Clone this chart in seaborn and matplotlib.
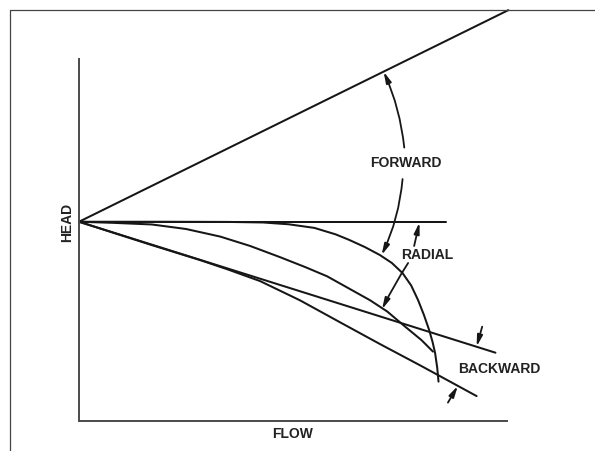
import matplotlib
matplotlib.use("Agg")
import matplotlib.pyplot as plt
import seaborn as sns
from matplotlib.lines import Line2D

# ---- data (flow, head) in chart units: axes run 0..100 on both ----
flow_forward_line = [0, 100.3]
head_forward_line = [55, 113.5]

flow_radial_line = [0, 85.7]
head_radial_line = [55, 55]

flow_backward_line = [0, 97.3]
head_backward_line = [55, 18.8]

flow_forward_curve = [0, 20, 35, 43, 49, 55, 60, 63.1, 66.8, 70.3, 73.1, 75.6,
                      77.6, 79.2, 80.6, 81.8, 82.6, 83.2, 83.7, 84.0]
head_forward_curve = [55, 55, 54.95, 54.8, 54.3, 53.3, 51.5, 50.0, 48.0, 45.8,
                      43.6, 40.8, 37.4, 33.4, 29.2, 25.1, 21.8, 18.7, 14.6, 10.8]

flow_radial_curve = [0, 8, 17, 25, 33, 40, 47, 53, 58, 63, 68, 72, 76, 80, 82.7]
head_radial_curve = [55, 54.7, 54.25, 53.0, 50.9, 48.3, 45.2, 42.4, 39.9, 36.6,
                     33.3, 30.2, 26.2, 22.3, 19.1]

flow_backward_curve = [0, 16.6, 28.3, 34.8, 42.3, 51.6, 61.0, 70.3, 79.7, 86.7, 92.9]
head_backward_curve = [55, 48.7, 44.4, 41.8, 38.6, 33.3, 27.2, 21.2, 15.3, 10.8, 6.8]

# annotation arcs: (tail, head)
forward_arrows = [((76.0, 75.5), (71.17, 96.5), 0.08),
                  ((75.6, 66.8), (70.7, 45.8), -0.09)]
radial_arrows = [((78.3, 48.3), (79.55, 54.8), 0.0),
                 ((76.9, 43.6), (70.8, 30.8), 0.03)]
backward_arrows = [((94.2, 26.0), (92.9, 20.5), 0.0),
                   ((86.2, 5.0), (88.5, 9.6), 0.0)]

label_text = ["FORWARD", "RADIAL", "BACKWARD"]
label_pos = [(76.3, 71.2), (81.4, 45.9), (98.2, 14.3)]

sns.set_theme(style="white")
plt.rcParams['font.family'] = ['Liberation Sans', 'DejaVu Sans']

fig = plt.figure(figsize=(5.95, 4.51), dpi=100)
ax = fig.add_axes([0, 0, 1, 1])
ax.set_facecolor("white")

ink = "#161616"
lw = 1.45
for fx, hy in [(flow_forward_line, head_forward_line),
               (flow_radial_line, head_radial_line),
               (flow_backward_line, head_backward_line),
               (flow_forward_curve, head_forward_curve),
               (flow_radial_curve, head_radial_curve),
               (flow_backward_curve, head_backward_curve)]:
    sns.lineplot(x=fx, y=hy, ax=ax, color=ink, linewidth=lw,
                 sort=False, estimator=None)

for tail, tip, rad in forward_arrows + radial_arrows + backward_arrows:
    ax.annotate("", xy=tip, xytext=tail, xycoords="data", textcoords="data",
                arrowprops=dict(arrowstyle="-|>,head_length=0.65,head_width=0.16",
                                connectionstyle=f"arc3,rad={rad}",
                                color=ink, lw=1.3, shrinkA=0, shrinkB=0,
                                mutation_scale=10))

for t, (x, y) in zip(label_text, label_pos):
    ax.text(x, y, t, ha="center", va="center", fontsize=10,
            fontweight="bold", color="#222222")

ax.text(49.9, -3.7, "FLOW", ha="center", va="center", fontsize=10,
        fontweight="bold", color="#222222")
ax.text(-2.66, 54.7, "HEAD", ha="center", va="center", fontsize=10,
        fontweight="bold", color="#222222", rotation=90)

ax.set_xlim(-18.46, 120.56)
ax.set_ylim(-8.38, 116.31)
ax.set_xticks([])
ax.set_yticks([])
ax.set_xlabel("")
ax.set_ylabel("")
for s in ["top", "right"]:
    ax.spines[s].set_visible(False)
for s in ["left", "bottom"]:
    ax.spines[s].set_visible(True)
    ax.spines[s].set_position(("data", 0))
    ax.spines[s].set_bounds(0, 100)
    ax.spines[s].set_color("#4a4a4a")
    ax.spines[s].set_linewidth(1.4)

# screenshot frame (top and left)
fx0 = 9.5 / 595
fy0 = 1 - 9.5 / 451
fig.add_artist(Line2D([fx0, 1], [fy0, fy0], transform=fig.transFigure,
                      color="#444444", lw=0.9))
fig.add_artist(Line2D([fx0, fx0], [0, fy0], transform=fig.transFigure,
                      color="#444444", lw=0.9))

fig.savefig("out.png", dpi=100)
